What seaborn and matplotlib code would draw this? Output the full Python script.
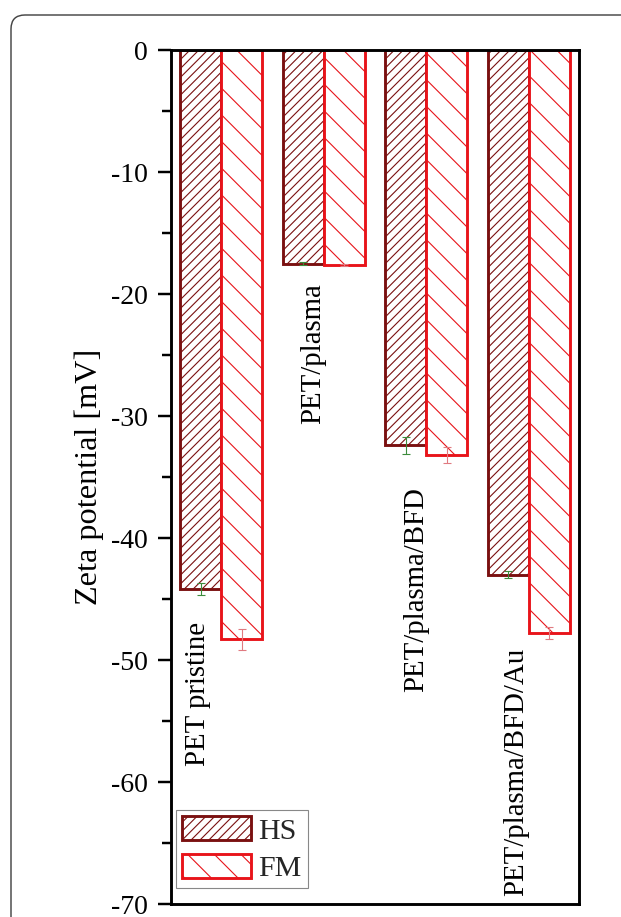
import numpy as np
import pandas as pd
import matplotlib
matplotlib.use("Agg")
import matplotlib.pyplot as plt
import seaborn as sns
from matplotlib.patches import FancyBboxPatch, Patch
from matplotlib.transforms import IdentityTransform
from matplotlib.ticker import MultipleLocator

# ---------------- data ----------------
samples = ["PET pristine", "PET/plasma", "PET/plasma/BFD", "PET/plasma/BFD/Au"]
series = ["HS", "FM"]
hs_values = [-44.2, -17.5, -32.4, -43.0]
fm_values = [-48.3, -17.6, -33.2, -47.8]
hs_errors = [0.5, 0.1, 0.7, 0.3]
fm_errors = [0.85, 0.1, 0.65, 0.5]
y_ticks = [0, -10, -20, -30, -40, -50, -60, -70]
y_label = "Zeta potential [mV]"

# ---------------- style ----------------
DPI = 80
W, H = 621, 917
sns.set_theme(style="ticks")
plt.rcParams["font.family"] = ["Liberation Serif", "DejaVu Serif"]
plt.rcParams["hatch.linewidth"] = 1.0

edge_colors = ["#7a1010", "#e8141a"]
err_colors = ["#3c8c3c", "#e07a80"]
hatches = ["///", "\\"]

df = pd.DataFrame({
    "sample": samples * 2,
    "series": [series[0]] * len(samples) + [series[1]] * len(samples),
    "value": hs_values + fm_values,
})

fig = plt.figure(figsize=(W / DPI, H / DPI), dpi=DPI)
fig.patch.set_facecolor("white")
ax = fig.add_axes([171 / W, 13 / H, (579 - 171) / W, (904 - 50) / H])

sns.barplot(data=df, x="sample", y="value", hue="series", order=samples,
            hue_order=series, palette=["white", "white"], errorbar=None,
            width=0.8, gap=0, legend=False, ax=ax)

errs = [hs_errors, fm_errors]
vals = [hs_values, fm_values]
bar_containers = list(ax.containers)[:2]
for i, cont in enumerate(bar_containers):
    xs = []
    for bar in cont.patches:
        bar.set_facecolor("white")
        bar.set_edgecolor(edge_colors[i])
        bar.set_hatch(hatches[i])
        bar.set_linewidth(2.6)
        xs.append(bar.get_x() + bar.get_width() / 2)
    ax.errorbar(xs, vals[i], yerr=errs[i], fmt="none", ecolor=err_colors[i],
                elinewidth=1.0, capsize=4, capthick=1.0, zorder=5)

# sample labels (rotated)
label_pos = [(-0.227, -46.9), (0.895, -19.1), (1.90, -35.8), (2.876, -49.0)]
for s, (x, y) in zip(samples, label_pos):
    ax.text(x, y, s, rotation=90, ha="center", va="top", fontsize=26,
            color="black")

ax.set_xlim(-0.49, 3.49)
ax.set_ylim(-70, 0)
ax.set_xticks([])
ax.set_xlabel("")
ax.set_yticks(y_ticks)
ax.set_yticklabels([str(t) for t in y_ticks])
ax.yaxis.set_minor_locator(MultipleLocator(5))
ax.tick_params(axis="y", which="major", length=11.5, width=2.2, pad=9,
               labelsize=25, direction="out", color="black", labelcolor="black")
ax.tick_params(axis="y", which="minor", length=8, width=2.2, direction="out",
               color="black")
ax.set_ylabel(y_label, fontsize=29, labelpad=7, color="black")
for sp in ax.spines.values():
    sp.set_visible(True)
    sp.set_linewidth(2.6)
    sp.set_color("black")

handles = [Patch(facecolor="white", edgecolor=edge_colors[i], hatch=hatches[i],
                 linewidth=2.6, label=series[i]) for i in range(2)]
leg = ax.legend(handles=handles, loc="lower left", fontsize=27,
                bbox_to_anchor=(5 / 408, 16 / 854), borderaxespad=0,
                fancybox=False, framealpha=1, edgecolor="#888888",
                handlelength=2.3, handleheight=0.85, handletextpad=0.25,
                labelspacing=0.3, borderpad=0.2)
leg.get_frame().set_linewidth(1.0)

# outer rounded frame
frame = FancyBboxPatch((11, -40), 680, H - 15 + 40,
                       boxstyle="round,pad=0,rounding_size=14",
                       transform=IdentityTransform(), facecolor="none",
                       edgecolor="#444444", linewidth=1.3)
fig.patches.append(frame)

fig.savefig("out.png", dpi=DPI)
